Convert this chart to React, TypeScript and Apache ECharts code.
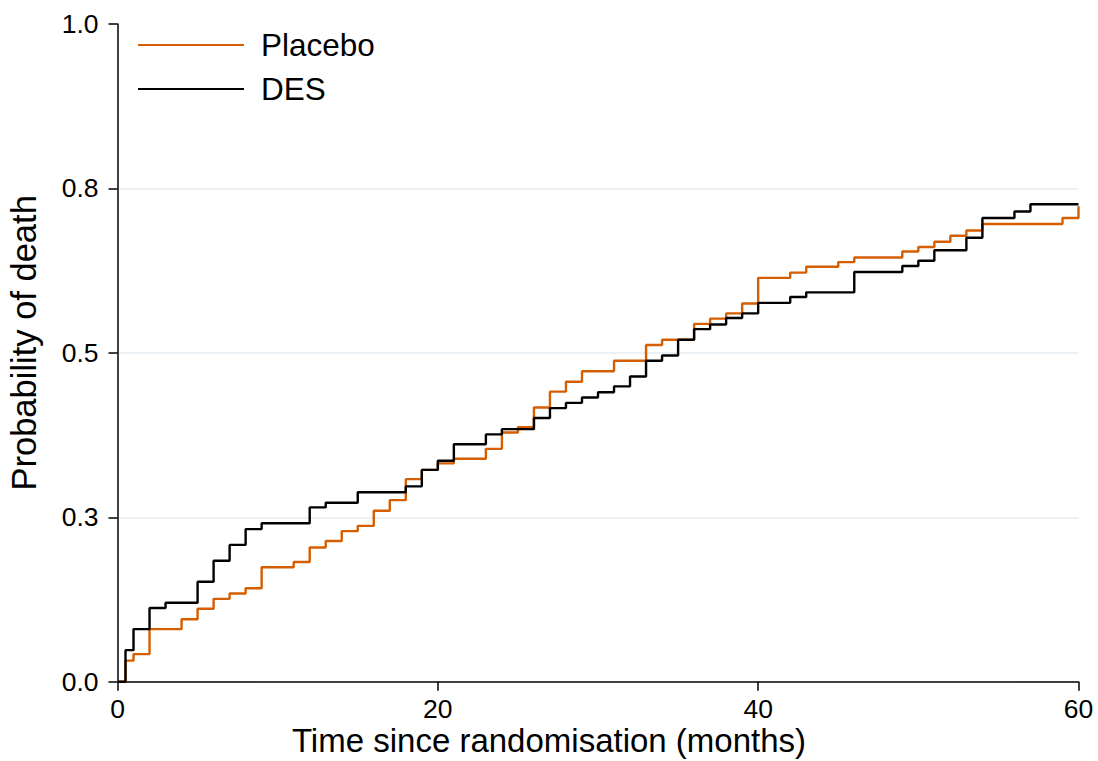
import React, { useEffect, useRef } from "react";
import * as echarts from "echarts";

const seriesNames = ["Placebo", "DES"];
const seriesColors = ["#D55E00", "#000000"];

const placeboTimes = [0, 0.5, 1, 2, 4, 5, 6, 7, 8, 9, 11, 12, 13, 14, 15, 16, 17, 18, 19, 20, 21, 23, 24, 25, 26, 27, 28, 29, 31, 33, 34, 36, 37, 38, 39, 40, 42, 43, 45, 46, 49, 50, 51, 52, 53, 54, 59, 60];
const placeboProb = [0, 0.032, 0.042, 0.080, 0.095, 0.111, 0.126, 0.134, 0.142, 0.174, 0.182, 0.204, 0.214, 0.229, 0.237, 0.260, 0.276, 0.308, 0.322, 0.332, 0.339, 0.354, 0.379, 0.387, 0.417, 0.441, 0.456, 0.472, 0.488, 0.512, 0.520, 0.544, 0.552, 0.560, 0.575, 0.614, 0.622, 0.631, 0.638, 0.645, 0.654, 0.661, 0.669, 0.678, 0.686, 0.696, 0.705, 0.723];

const desTimes = [0, 0.5, 1, 2, 3, 5, 6, 7, 8, 9, 12, 13, 15, 18, 19, 20, 21, 23, 24, 26, 27, 28, 29, 30, 31, 32, 33, 34, 35, 36, 37, 38, 39, 40, 42, 43, 46, 49, 50, 51, 53, 54, 56, 57, 60];
const desProb = [0, 0.048, 0.080, 0.112, 0.120, 0.152, 0.184, 0.208, 0.232, 0.241, 0.265, 0.272, 0.288, 0.297, 0.322, 0.336, 0.361, 0.376, 0.384, 0.401, 0.416, 0.424, 0.432, 0.440, 0.449, 0.464, 0.488, 0.496, 0.520, 0.536, 0.543, 0.553, 0.560, 0.576, 0.585, 0.592, 0.623, 0.632, 0.640, 0.656, 0.675, 0.705, 0.715, 0.726, 0.726];

const xTitle = "Time since randomisation (months)";
const yTitle = "Probability of death";

const FONT = "'Liberation Sans', Arial, sans-serif";

function zip(xs: number[], ys: number[]) {
  return xs.map((x, i) => [x, ys[i]]);
}

export default function App() {
  const ref = useRef<HTMLDivElement>(null);
  useEffect(() => {
    if (!ref.current) return;
    const chart = echarts.init(ref.current, null, { renderer: "svg" });
    chart.setOption({
      animation: false,
      backgroundColor: "#ffffff",
      textStyle: { fontFamily: FONT },
      grid: { left: 117.5, right: 19.5, top: 24, bottom: 79.3, containLabel: false, outerBoundsMode: "none" },
      legend: {
        orient: "vertical",
        left: 133,
        top: 24,
        icon: "rect",
        itemWidth: 106,
        itemHeight: 2,
        itemGap: 12,
        data: seriesNames,
        textStyle: { fontSize: 31.5, color: "#000", fontFamily: FONT, lineHeight: 31.5, padding: [0, 0, 0, 12] },
      },
      graphic: [
        {
          type: "text",
          left: "center",
          top: 724,
          silent: true,
          style: {
            text: xTitle,
            fontSize: 33,
            fontFamily: FONT,
            fill: "#000",
          },
        },
      ],
      xAxis: {
        type: "value",
        min: 0,
        max: 60,
        interval: 20,
        axisLine: { show: true, onZero: false, lineStyle: { color: "#000", width: 1.5 } },
        axisTick: { show: true, length: 9, lineStyle: { color: "#000", width: 1.5 } },
        axisLabel: { fontSize: 26.5, color: "#000", margin: 14, fontFamily: FONT },
        splitLine: { show: false },
      },
      yAxis: {
        type: "value",
        min: 0,
        max: 1,
        interval: 0.25,
        name: yTitle,
        nameLocation: "middle",
        nameGap: 76,
        nameTextStyle: { fontSize: 34.5, color: "#000", fontFamily: FONT, padding: [0, 0, 0, 20] },
        axisLine: { show: true, onZero: false, lineStyle: { color: "#000", width: 1.5 } },
        axisTick: { show: true, length: 9, lineStyle: { color: "#000", width: 1.5 } },
        axisLabel: {
          fontSize: 26.5,
          color: "#000",
          margin: 19,
          fontFamily: FONT,
          formatter: (v: number) => v.toFixed(1),
        },
        splitLine: {
          show: true,
          showMinLine: false,
          showMaxLine: false,
          lineStyle: { color: "#e4edf0", width: 1.5 },
        },
      },
      series: [
        {
          name: seriesNames[0],
          type: "line",
          step: "end",
          showSymbol: false,
          symbol: "none",
          data: zip(placeboTimes, placeboProb),
          lineStyle: { color: seriesColors[0], width: 2.4 },
          itemStyle: { color: seriesColors[0] },
          z: 2,
        },
        {
          name: seriesNames[1],
          type: "line",
          step: "end",
          showSymbol: false,
          symbol: "none",
          data: zip(desTimes, desProb),
          lineStyle: { color: seriesColors[1], width: 2.4 },
          itemStyle: { color: seriesColors[1] },
          z: 3,
        },
      ],
    });
    return () => chart.dispose();
  }, []);
  return (
    <div
      ref={ref}
      style={{ position: "fixed", left: 0, top: 0, width: 1098, height: 761, background: "#fff" }}
    />
  );
}
